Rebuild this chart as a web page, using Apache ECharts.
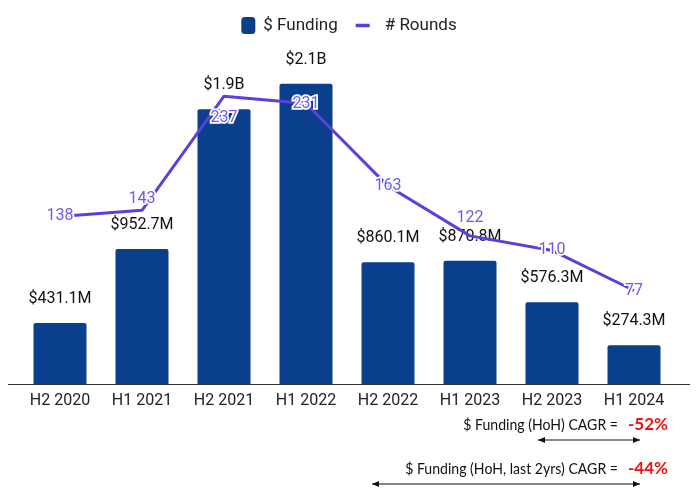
<!DOCTYPE html>
<html>
<head>
<meta charset="utf-8">
<script src="https://cdn.jsdelivr.net/npm/echarts@6/dist/echarts.min.js"></script>
<style>html,body{margin:0;padding:0;background:#fff;}#c{width:698px;height:492px;}</style>
</head>
<body>
<div id="c"></div>
<script>
var categories = ['H2 2020','H1 2021','H2 2021','H1 2022','H2 2022','H1 2023','H2 2023','H1 2024'];
var fundingM = [431.1, 952.7, 1940, 2120, 860.1, 870.8, 576.3, 274.3];
var rounds = [138, 143, 237, 231, 163, 122, 110, 77];
var roundLabelPos = ['inside','top','bottom','inside','inside','top','inside','inside'];
var roundLabelDist = [0, 2, 13, 0, 0, 9, 0, 0];

function fmtFunding(v){
  return v >= 1000 ? '$' + (v/1000).toFixed(1) + 'B' : '$' + v.toFixed(1) + 'M';
}

var chart = echarts.init(document.getElementById('c'));
var font = 'Roboto, "Noto Sans", sans-serif';
var lineColor = '#5b40db';
var lineData = rounds.map(function(v,i){
  return {value: v, label: {position: roundLabelPos[i], distance: roundLabelDist[i]}};
});

function arrow(x1, x2, y){
  return {
    type: 'group',
    children: [
      {type:'line', shape:{x1:x1, y1:y, x2:x2, y2:y}, style:{stroke:'#111', lineWidth:1}},
      {type:'polygon', shape:{points:[[x1,y],[x1+7,y-3],[x1+7,y+3]]}, style:{fill:'#111'}},
      {type:'polygon', shape:{points:[[x2,y],[x2-7,y-3],[x2-7,y+3]]}, style:{fill:'#111'}}
    ]
  };
}

function anno(text, y){
  return {
    type: 'text', x: 618, y: y, scaleX: 0.88,
    style: {text: text, x: 0, y: 0, textAlign: 'right', textVerticalAlign: 'middle',
            font: '16px Lato, sans-serif', fill: '#111'}
  };
}
function pct(text, y){
  return {
    type: 'text', x: 628, y: y,
    style: {text: text, x: 0, y: 0, textAlign: 'left', textVerticalAlign: 'middle',
            font: 'bold 17px Lato, sans-serif', fill: '#f01010'}
  };
}

chart.setOption({
  animation: false,
  textStyle: {fontFamily: font},
  legend: {
    top: 12,
    left: 'center',
    itemGap: 18,
    itemWidth: 14,
    itemHeight: 17,
    textStyle: {fontSize: 17, color: '#222', fontFamily: font, padding: [0,0,0,3]},
    data: [
      {name: '$ Funding', icon: 'roundRect'},
      {name: '# Rounds', icon: 'path://M0,0h16v4h-16z', itemStyle: {color: lineColor, opacity: 1},
       textStyle: {padding: [0,0,0,10]}}
    ]
  },
  grid: {left: 19, right: 23, top: 44, bottom: 108},
  xAxis: {
    type: 'category',
    data: categories,
    axisLine: {lineStyle: {color: '#333', width: 1}},
    axisTick: {show: false},
    axisLabel: {fontSize: 16, color: '#222', margin: 9, fontFamily: font}
  },
  yAxis: [
    {type: 'value', min: 0, max: 2400, show: false, splitLine: {show: false}},
    {type: 'value', min: 0, max: 280, show: false, splitLine: {show: false}}
  ],
  series: [
    {
      name: '$ Funding',
      type: 'bar',
      data: fundingM,
      barWidth: 53,
      itemStyle: {color: '#0a3f8e', borderRadius: [2,2,0,0]},
      label: {
        show: true, position: 'top', distance: 16,
        fontSize: 16, color: '#111', fontFamily: font,
        textBorderColor: '#fff', textBorderWidth: 2,
        formatter: function(p){ return fmtFunding(p.value); }
      },
      z: 2
    },
    {
      name: '# Rounds',
      type: 'line',
      yAxisIndex: 1,
      data: lineData,
      symbol: 'circle',
      symbolSize: 2,
      showSymbol: true,
      itemStyle: {color: lineColor, opacity: 0},
      lineStyle: {color: lineColor, width: 3, opacity: 1},
      label: {
        show: true, fontSize: 16, color: '#6a5fe3', fontFamily: font,
        textBorderColor: '#fff', textBorderWidth: 3.5, opacity: 1
      },
      labelLayout: {hideOverlap: false},
      z: 5
    }
  ],
  graphic: [
    {type:'line', shape:{x1:8, y1:384.5, x2:690, y2:384.5}, style:{stroke:'#333', lineWidth:1}, z: 1},
    anno('$ Funding (HoH) CAGR =', 425),
    pct('-52%', 425),
    arrow(538, 640, 440),
    anno('$ Funding (HoH, last 2yrs) CAGR =', 469),
    pct('-44%', 469),
    arrow(372, 640, 484)
  ]
});
</script>
</body>
</html>
